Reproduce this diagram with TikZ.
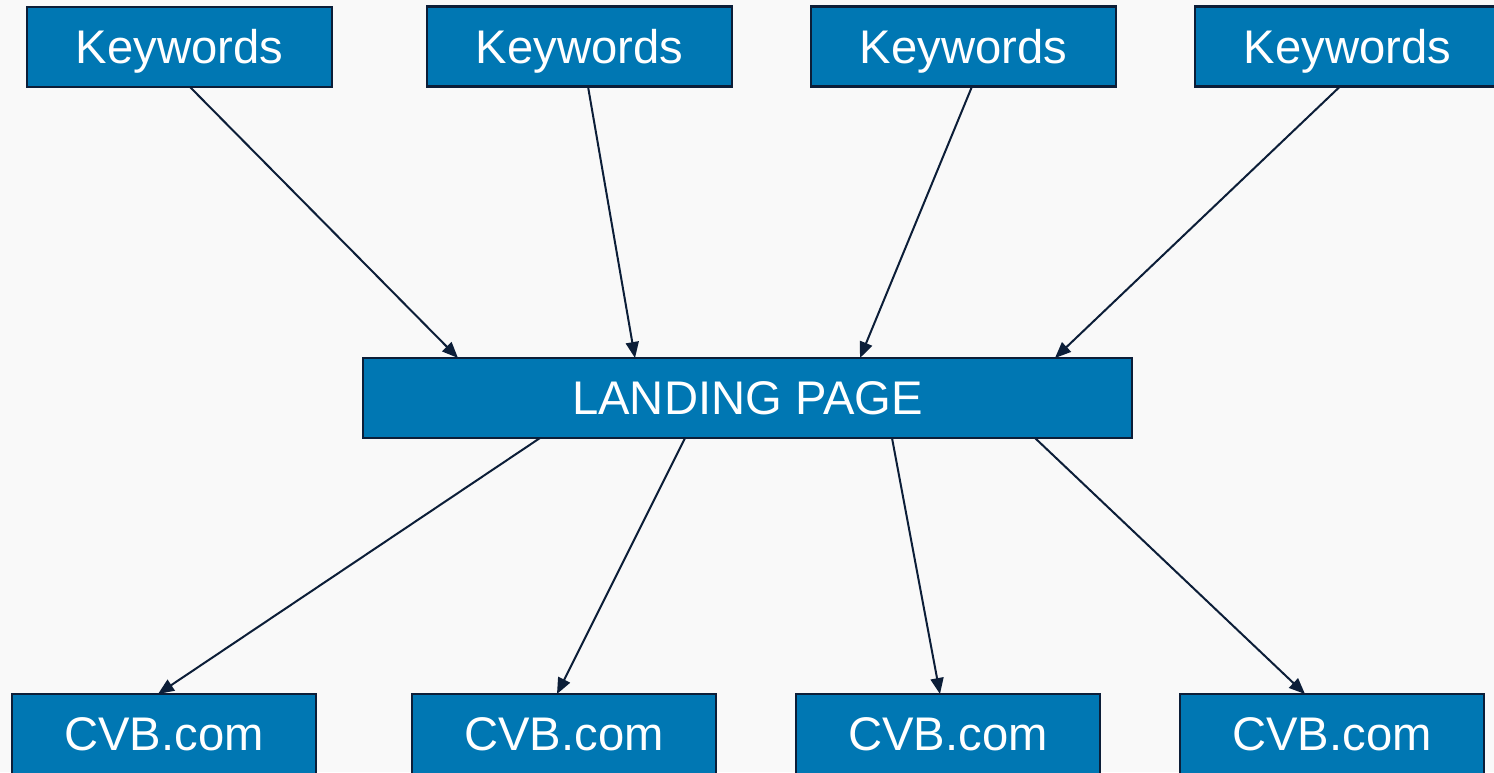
\documentclass[tikz,border=0pt]{standalone}
\usepackage{fontspec}
\setmainfont{Liberation Sans}
\usetikzlibrary{arrows.meta,calc}
\definecolor{boxfill}{RGB}{0,119,179}
\definecolor{navy}{RGB}{12,30,56}
\definecolor{bg}{RGB}{249,249,249}
\tikzset{
  box/.style={draw=navy, line width=1.1pt, fill=boxfill, text=white, inner sep=0pt, outer sep=0pt,
    minimum height=40pt, text height=20.5pt, text depth=4pt, font=\fontsize{23.6}{28}\selectfont},
  kbox/.style={box, minimum width=152.5pt},
  cbox/.style={box, minimum width=152pt},
  lbox/.style={box, minimum width=384.5pt},
  conn/.style={draw=navy, line width=1pt, -{Triangle[length=8pt,width=6.5pt]}}
}
\begin{document}
\begin{tikzpicture}[x=0.5pt,y=-0.5pt]
\useasboundingbox (0,0) rectangle (1494,772);
\clip (0,0) rectangle (1494,772);
\fill[bg] (0,0) rectangle (1494,772);
\node[kbox] (k1) at (179.5,47) {Keywords};
\node[kbox] (k2) at (579.5,46.5) {Keywords};
\node[kbox] (k3) at (963.5,46.5) {Keywords};
\node[kbox] (k4) at (1347.5,46.5) {Keywords};
\node[lbox] (lp) at (747.5,398) {LANDING PAGE};
\node[cbox] (c1) at (164,734) {CVB.com};
\node[cbox] (c2) at (564,734) {CVB.com};
\node[cbox] (c3) at (948,734) {CVB.com};
\node[cbox] (c4) at (1332,734) {CVB.com};
\draw[conn] ($(k1.south west)+(163,0)$) -- ($(lp.north west)+(95,0)$);
\draw[conn] ($(k2.south west)+(161,0)$) -- ($(lp.north west)+(272,0)$);
\draw[conn] ($(k3.south west)+(161,0)$) -- ($(lp.north west)+(497,0)$);
\draw[conn] ($(k4.south west)+(145,0)$) -- ($(lp.north west)+(692,0)$);
\draw[conn] ($(lp.south west)+(177,0)$) -- ($(c1.north west)+(146,0)$);
\draw[conn] ($(lp.south west)+(322,0)$) -- ($(c2.north west)+(145,0)$);
\draw[conn] ($(lp.south west)+(529,0)$) -- ($(c3.north west)+(144,0)$);
\draw[conn] ($(lp.south west)+(672,0)$) -- ($(c4.north west)+(125,0)$);
\end{tikzpicture}
\end{document}
